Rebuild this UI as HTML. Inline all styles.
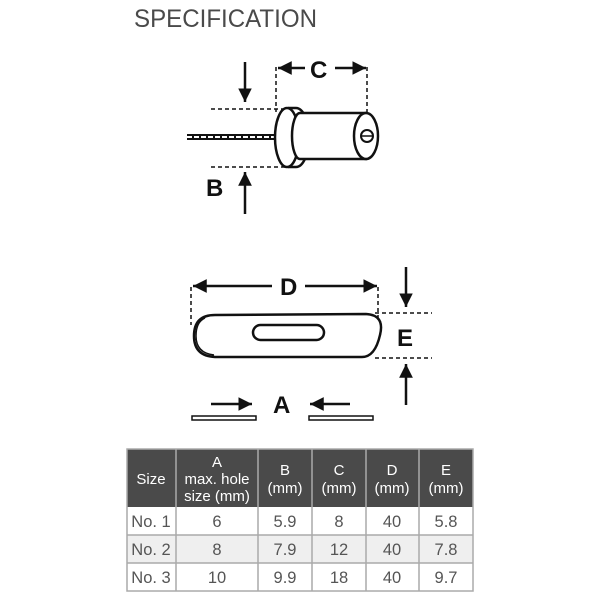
<!DOCTYPE html>
<html><head><meta charset="utf-8"><style>
html,body{margin:0;padding:0;background:#fff;}
svg{display:block;}
</style></head><body>
<svg width="600" height="600" viewBox="0 0 600 600" xmlns="http://www.w3.org/2000/svg" font-family="Liberation Sans, Arial, sans-serif">
<defs>
<marker id="ah" viewBox="0 0 10 10" refX="10" refY="5" markerWidth="5.5" markerHeight="5.5" orient="auto" markerUnits="strokeWidth"><path d="M0,0 L10,5 L0,10 z" fill="#111"/></marker>
</defs>
<text x="134" y="27" font-size="25" fill="#4a4a4a" textLength="183" lengthAdjust="spacingAndGlyphs">SPECIFICATION</text>

<!-- Drawing 1 -->
<g stroke="#111" fill="none">
<g stroke-dasharray="4,3" stroke-width="1.5">
<line x1="211" y1="109" x2="288" y2="109"/>
<line x1="211" y1="167" x2="285" y2="167"/>
<line x1="276" y1="67" x2="276" y2="112"/>
<line x1="367" y1="67" x2="367" y2="112"/>
</g>
<g stroke-width="2.5">
<line x1="245" y1="62" x2="245" y2="102" marker-end="url(#ah)"/>
<line x1="245" y1="214" x2="245" y2="172" marker-end="url(#ah)"/>
<line x1="305" y1="68" x2="278" y2="68" marker-end="url(#ah)"/>
<line x1="335" y1="68" x2="366" y2="68" marker-end="url(#ah)"/>
</g>
<!-- cable -->
<line x1="187" y1="137" x2="277" y2="137" stroke-width="6"/>
<line x1="187" y1="137" x2="277" y2="137" stroke="#fff" stroke-width="2" stroke-dasharray="5,2"/>
<!-- flange -->
<path d="M288,108 L296,108 A13,29.5 0 0 1 296,167 L288,167" fill="#fff" stroke-width="2.5"/>
<ellipse cx="287" cy="137.5" rx="12" ry="29.5" fill="#fff" stroke-width="2.5"/>
<!-- cylinder -->
<path d="M300,113 L366,113 L366,159 L300,159 A8,23 0 0 1 300,113 z" fill="#fff" stroke-width="2.5"/>
<ellipse cx="366" cy="136" rx="12" ry="23" fill="#fff" stroke-width="2.5"/>
<circle cx="367" cy="136" r="6" stroke-width="2"/>
<line x1="362" y1="136" x2="372" y2="136" stroke-width="1.5"/>
</g>
<text x="206" y="196" font-size="24" font-weight="bold" fill="#111">B</text>
<text x="310" y="78" font-size="24" font-weight="bold" fill="#111">C</text>

<!-- Drawing 2 -->
<g stroke="#111" fill="none">
<g stroke-dasharray="4,3" stroke-width="1.5">
<line x1="191" y1="287" x2="191" y2="325"/>
<line x1="378" y1="287" x2="378" y2="322"/>
<line x1="375" y1="313" x2="432" y2="313"/>
<line x1="375" y1="358" x2="432" y2="358"/>
</g>
<g stroke-width="2.5">
<line x1="272" y1="286" x2="193" y2="286" marker-end="url(#ah)"/>
<line x1="305" y1="286" x2="377" y2="286" marker-end="url(#ah)"/>
<line x1="406" y1="267" x2="406" y2="307" marker-end="url(#ah)"/>
<line x1="406" y1="405" x2="406" y2="364" marker-end="url(#ah)"/>
<line x1="211" y1="404" x2="252" y2="404" marker-end="url(#ah)"/>
<line x1="350" y1="404" x2="310" y2="404" marker-end="url(#ah)"/>
</g>
<path d="M215,315 L366,314 Q385,315 380,335 Q375,357 362,357 L215,357 Q194,356 194,336 Q194,315 215,315 z" fill="#fff" stroke-width="2.5"/>
<path d="M205,318 Q196,322 196,336 Q196,353 214,355" stroke-width="1.5"/>
<rect x="253" y="325" width="71" height="15" rx="7.5" fill="#fff" stroke-width="2.5"/>
<rect x="192" y="416" width="64" height="4" stroke-width="1.5"/>
<rect x="309" y="416" width="64" height="4" stroke-width="1.5"/>
</g>
<text x="280" y="295" font-size="24" font-weight="bold" fill="#111">D</text>
<text x="397" y="346" font-size="24" font-weight="bold" fill="#111">E</text>
<text x="273" y="413" font-size="24" font-weight="bold" fill="#111">A</text>

<!-- Table -->
<g fill="#444" text-anchor="middle">
<rect x="127" y="449" width="346" height="58" fill="#4a4a4a"/>
<rect x="127" y="535" width="346" height="28" fill="#efefef"/>
<g stroke="#aaa" stroke-width="1.5" fill="none">
<rect x="127" y="449" width="346" height="142"/>
<line x1="127" y1="535" x2="473" y2="535"/>
<line x1="127" y1="563" x2="473" y2="563"/>
<line x1="176" y1="449" x2="176" y2="591"/>
<line x1="258" y1="449" x2="258" y2="591"/>
<line x1="312" y1="449" x2="312" y2="591"/>
<line x1="366" y1="449" x2="366" y2="591"/>
<line x1="419" y1="449" x2="419" y2="591"/>
</g>
<g fill="#fff" font-size="15">
<text x="151" y="484">Size</text>
<text x="217" y="467">A</text>
<text x="217" y="484">max. hole</text>
<text x="217" y="501">size (mm)</text>
<text x="285" y="475">B</text><text x="285" y="493">(mm)</text>
<text x="339" y="475">C</text><text x="339" y="493">(mm)</text>
<text x="392" y="475">D</text><text x="392" y="493">(mm)</text>
<text x="446" y="475">E</text><text x="446" y="493">(mm)</text>
</g>
<g font-size="16.5" fill="#555">
<text x="151" y="527">No. 1</text><text x="217" y="527">6</text><text x="285" y="527">5.9</text><text x="339" y="527">8</text><text x="392" y="527">40</text><text x="446" y="527">5.8</text>
<text x="151" y="555">No. 2</text><text x="217" y="555">8</text><text x="285" y="555">7.9</text><text x="339" y="555">12</text><text x="392" y="555">40</text><text x="446" y="555">7.8</text>
<text x="151" y="583">No. 3</text><text x="217" y="583">10</text><text x="285" y="583">9.9</text><text x="339" y="583">18</text><text x="392" y="583">40</text><text x="446" y="583">9.7</text>
</g>
</g>
</svg>
</body></html>
